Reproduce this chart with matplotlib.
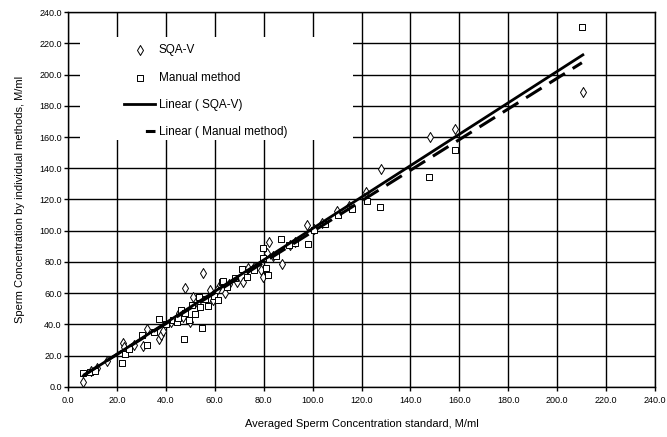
import numpy as np
import matplotlib
matplotlib.use("Agg")
import matplotlib.pyplot as plt
from matplotlib.patches import Rectangle

plt.rcParams['font.family'] = ['Liberation Sans', 'DejaVu Sans']

# SQA-V readings (x: averaged standard, y: SQA-V)
sqa_x = [6.3, 9.5, 11.7, 16.0, 22.4, 22.9, 27.0, 30.8, 32.4, 37.3, 38.0, 39.0,
         42.0, 44.5, 45.5, 46.9, 47.7, 49.9, 51.2, 53.0, 55.3, 57.8, 58.0, 59.1,
         61.0, 62.3, 64.2, 66.0, 69.2, 71.4, 73.7, 76.0, 78.7, 79.9, 81.2, 82.3,
         84.0, 87.3, 90.8, 93.0, 97.8, 100.5, 104.0, 110.0, 115.0, 122.0, 128.0,
         148.0, 158.2, 210.5]
sqa_y = [2.8, 10.0, 11.8, 16.5, 27.8, 25.6, 27.0, 26.0, 36.8, 30.4, 33.1, 36.0,
         41.5, 44.0, 47.0, 44.5, 63.5, 41.7, 57.7, 53.0, 72.7, 56.7, 62.0, 55.6,
         62.0, 65.0, 59.9, 66.0, 67.3, 67.3, 75.9, 77.0, 74.8, 70.5, 85.5, 92.6,
         84.0, 78.7, 91.0, 93.0, 103.7, 101.0, 105.0, 112.5, 116.0, 125.0, 139.5,
         160.0, 165.0, 189.0]

# Manual method readings
man_x = [6.3, 9.0, 11.0, 22.0, 23.3, 25.0, 30.1, 32.2, 35.0, 37.3, 40.0, 43.0,
         44.5, 45.0, 46.2, 47.4, 48.0, 49.5, 50.6, 51.9, 53.5, 54.1, 54.9, 56.0,
         57.4, 59.5, 61.4, 62.8, 63.5, 65.0, 68.3, 71.1, 73.0, 76.0, 79.6, 79.9,
         81.0, 81.9, 85.0, 87.0, 90.5, 93.0, 98.0, 100.5, 105.0, 110.5, 116.0,
         122.2, 127.6, 147.6, 158.2, 210.1]
man_y = [8.6, 9.5, 10.3, 15.4, 21.0, 24.0, 33.1, 26.7, 35.0, 43.2, 40.2, 42.5,
         41.5, 44.0, 49.2, 30.6, 47.5, 43.0, 52.4, 46.4, 57.3, 50.9, 37.4, 56.0,
         51.7, 58.0, 55.6, 67.3, 68.0, 64.0, 69.5, 75.4, 70.5, 75.0, 89.1, 82.3,
         76.3, 71.6, 84.0, 94.7, 91.0, 92.0, 91.5, 100.5, 104.0, 110.0, 114.0,
         118.9, 115.0, 134.5, 151.7, 230.6]

# trendlines (slope, intercept)
sqa_fit = (1.007, 0.7)
man_fit = (0.983, 1.1)

ticks = np.arange(0, 241, 20)

fig = plt.figure(figsize=(6.67, 4.37), dpi=100)
ax = fig.add_axes([0.102, 0.115, 0.880, 0.857])

ax.grid(True, color='black', linewidth=1.0)
ax.set_axisbelow(True)

ax.scatter(sqa_x, sqa_y, marker='d', s=26, facecolors='white',
           edgecolors='black', linewidths=0.7, zorder=3, label='SQA-V')
ax.scatter(man_x, man_y, marker='s', s=14, facecolors='white',
           edgecolors='black', linewidths=0.7, zorder=3, label='Manual method')

fx = np.array([min(sqa_x), max(sqa_x)])
ax.plot(fx, sqa_fit[0] * fx + sqa_fit[1], color='black', linewidth=2.0,
        zorder=4, label='Linear ( SQA-V)')
fx = np.array([min(man_x), max(man_x)])
ax.plot(fx, man_fit[0] * fx + man_fit[1], color='black', linewidth=2.2,
        dashes=(6, 3), zorder=4, label='Linear ( Manual method)')

ax.set_xlim(0, 240)
ax.set_ylim(0, 240)
ax.set_xticks(ticks)
ax.set_yticks(ticks)
ax.set_xticklabels(['%.1f' % t for t in ticks])
ax.set_yticklabels(['%.1f' % t for t in ticks])
ax.tick_params(axis='x', labelsize=6.5, length=3, width=1, color='black',
               direction='out', pad=4)
ax.tick_params(axis='y', labelsize=6.5, length=3, width=1, color='black',
               direction='out', pad=1.5)
for sp in ax.spines.values():
    sp.set_linewidth(1.0)
    sp.set_color('black')

ax.set_xlabel('Averaged Sperm Concentration standard, M/ml', fontsize=8, labelpad=10)
ax.set_ylabel('Sperm Concentration by individual methods, M/ml', fontsize=8, labelpad=10)

# white box behind the legend that hides the grid
ax.add_patch(Rectangle((0.020, 0.659), 0.466, 0.275, transform=ax.transAxes,
                       facecolor='white', edgecolor='none', zorder=5))

leg = ax.legend(loc='upper left', bbox_to_anchor=(0.07, 0.955), fontsize=8.5,
                frameon=False, labelspacing=1.3, handlelength=2.6,
                handletextpad=0.3, borderpad=0.8)
leg.set_zorder(10)
# dashed legend sample shows a single dash on the right, as in the original
leg.get_lines()[-1].set_linestyle((6, (6, 7)))

fig.savefig('out.png', dpi=100)
